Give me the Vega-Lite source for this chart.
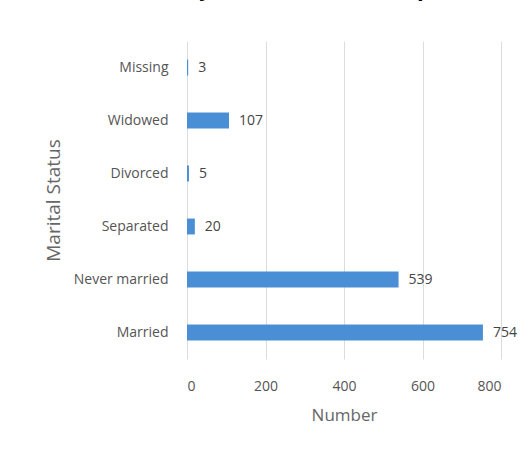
{
  "$schema": "https://vega.github.io/schema/vega-lite/v6.json",
  "width": 314,
  "height": 318,
  "autosize": "none",
  "padding": {"left": 187, "top": 41, "right": 27, "bottom": 104},
  "background": "white",
  "title": {"text": "Marital Status by Number of all the patients", "fontSize": 22, "font": "Open Sans", "fontWeight": "bold", "color": "black", "baseline": "alphabetic", "offset": 23, "anchor": "middle", "dx": -78},
  "config": {"view": {"stroke": null}, "font": "Open Sans"},
  "data": {"values": [
    {"Status": "Missing", "Number": 3},
    {"Status": "Widowed", "Number": 107},
    {"Status": "Divorced", "Number": 5},
    {"Status": "Separated", "Number": 20},
    {"Status": "Never married", "Number": 539},
    {"Status": "Married", "Number": 754}
  ]},
  "encoding": {
    "y": {"field": "Status", "type": "nominal", "sort": null,
      "scale": {"paddingInner": 0.7, "paddingOuter": 0.35},
      "axis": {"title": "Marital Status", "titleFontSize": 19, "titleColor": "#666", "titleFontWeight": "normal", "labelFontSize": 14, "labelColor": "#555", "labelPadding": 19, "ticks": false, "domain": false, "titlePadding": 10}},
    "x": {"field": "Number", "type": "quantitative", "scale": {"domain": [0, 800], "nice": false},
      "axis": {"values": [0, 200, 400, 600, 800], "title": "Number", "titleFontSize": 17, "titleColor": "#666", "titleFontWeight": "normal", "labelFontSize": 14, "labelColor": "#555", "labelPadding": 20, "titlePadding": 14, "grid": true, "gridColor": "#dcdcdc", "domain": false, "ticks": false}}
  },
  "layer": [
    {"mark": {"type": "bar", "color": "#4a8fd6"}},
    {"mark": {"type": "text", "align": "left", "dx": 10, "fontSize": 14, "color": "#444"}, "encoding": {"text": {"field": "Number", "type": "quantitative"}}}
  ]
}
